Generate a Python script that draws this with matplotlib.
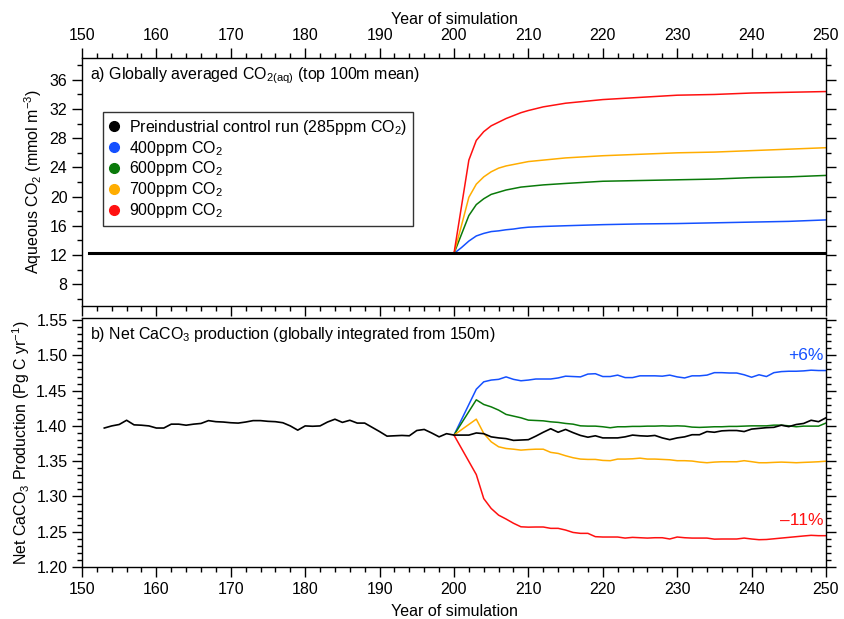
import matplotlib
matplotlib.use("Agg")
import matplotlib.pyplot as plt
from matplotlib.lines import Line2D
from matplotlib.ticker import MultipleLocator

plt.rcParams['font.family'] = ['Liberation Sans', 'DejaVu Sans']
plt.rcParams['mathtext.fontset'] = 'custom'
plt.rcParams['mathtext.rm'] = 'Liberation Sans'
plt.rcParams['mathtext.it'] = 'Liberation Sans:italic'
plt.rcParams['mathtext.bf'] = 'Liberation Sans:bold'

# colours of the runs
c_ctrl = 'black'
c_400 = '#1450ff'
c_600 = '#0a7a0a'
c_700 = '#ffad00'
c_900 = '#ff1010'

# a) aqueous CO2, top 100m mean (mmol m-3)
years_ctrl_a = [151, 250]
co2aq_ctrl = [12.2, 12.2]
years_a = [200, 201, 202, 203, 204, 205, 206, 207, 208, 209, 210,
           212, 215, 220, 225, 230, 235, 240, 245, 250]
co2aq_400 = [12.2, 13.0, 13.9, 14.6, 14.95, 15.2, 15.3, 15.45, 15.55, 15.7, 15.8,
             15.9, 16.0, 16.15, 16.25, 16.3, 16.4, 16.5, 16.6, 16.8]
co2aq_600 = [12.2, 14.8, 17.4, 18.9, 19.7, 20.3, 20.6, 20.9, 21.1, 21.3, 21.4,
             21.6, 21.8, 22.1, 22.2, 22.3, 22.4, 22.6, 22.7, 22.9]
co2aq_700 = [12.2, 16.0, 19.9, 21.7, 22.7, 23.4, 23.9, 24.2, 24.4, 24.6, 24.8,
             25.0, 25.3, 25.6, 25.8, 26.0, 26.1, 26.3, 26.5, 26.7]
co2aq_900 = [12.2, 18.6, 25.0, 27.7, 28.9, 29.7, 30.2, 30.7, 31.1, 31.5, 31.8,
             32.3, 32.8, 33.3, 33.6, 33.9, 34.0, 34.2, 34.3, 34.4]

# b) net CaCO3 production (Pg C yr-1)
years_ctrl_b = list(range(153, 251))
caco3_ctrl = [1.397, 1.400, 1.402, 1.408, 1.4015, 1.401, 1.400, 1.397, 1.397, 1.4025,
              1.4025, 1.401, 1.4025, 1.4035, 1.4075, 1.406, 1.4055, 1.4045, 1.404, 1.4055,
              1.4075, 1.4075, 1.4065, 1.406, 1.4045, 1.400, 1.394, 1.400, 1.3995, 1.400,
              1.4055, 1.4095, 1.405, 1.408, 1.404, 1.404, 1.398, 1.392, 1.3855, 1.386,
              1.3865, 1.386, 1.3935, 1.395, 1.390, 1.3845, 1.389, 1.387,
              1.387, 1.387, 1.390, 1.389, 1.3845, 1.383, 1.382, 1.3795, 1.380, 1.3805,
              1.3855, 1.391, 1.396, 1.391, 1.395, 1.3905, 1.3865, 1.384, 1.386, 1.383,
              1.383, 1.383, 1.3845, 1.387, 1.386, 1.3855, 1.3865, 1.383, 1.3805, 1.383,
              1.3845, 1.3875, 1.3875, 1.392, 1.391, 1.393, 1.3935, 1.3935, 1.392, 1.3955,
              1.3965, 1.3975, 1.398, 1.401, 1.399, 1.402, 1.4035, 1.408, 1.406, 1.4115]
years_b = [200] + list(range(203, 251))
caco3_400 = [1.387, 1.452, 1.4625, 1.465, 1.466, 1.4695, 1.466, 1.464, 1.465, 1.4665,
             1.4665, 1.4665, 1.468, 1.4705, 1.470, 1.4695, 1.4735, 1.474, 1.470, 1.470,
             1.472, 1.4685, 1.4685, 1.471, 1.471, 1.471, 1.4705, 1.472, 1.4695, 1.468,
             1.471, 1.471, 1.472, 1.4755, 1.4755, 1.475, 1.475, 1.4725, 1.469, 1.4725,
             1.470, 1.4755, 1.477, 1.4775, 1.4775, 1.478, 1.479, 1.4785, 1.4785]
caco3_600 = [1.387, 1.437, 1.4304, 1.427, 1.4224, 1.4163, 1.4139, 1.4115, 1.4082, 1.4077,
             1.4072, 1.4058, 1.405, 1.4035, 1.4025, 1.4001, 1.3997, 1.3997, 1.3988, 1.3974,
             1.3988, 1.3988, 1.3993, 1.3993, 1.3997, 1.3997, 1.4001, 1.3997, 1.4001, 1.3997,
             1.3983, 1.3979, 1.3983, 1.3988, 1.3988, 1.3993, 1.3993, 1.3997, 1.4001, 1.4001,
             1.4001, 1.4011, 1.4011, 1.4001, 1.3988, 1.3997, 1.3997, 1.3997, 1.4041]
caco3_700 = [1.387, 1.4096, 1.3894, 1.3775, 1.3704, 1.368, 1.367, 1.3657, 1.3665, 1.367,
             1.367, 1.3625, 1.361, 1.3577, 1.3549, 1.353, 1.3525, 1.3525, 1.3511, 1.3507,
             1.353, 1.353, 1.3534, 1.3543, 1.353, 1.353, 1.3525, 1.352, 1.3507, 1.3507,
             1.3502, 1.3487, 1.3478, 1.3487, 1.3492, 1.3492, 1.3492, 1.3507, 1.3493, 1.3478,
             1.3478, 1.3483, 1.3487, 1.3483, 1.3478, 1.3483, 1.3487, 1.3492, 1.350]
caco3_900 = [1.387, 1.331, 1.297, 1.283, 1.2735, 1.268, 1.262, 1.257, 1.2565, 1.2567,
             1.2567, 1.2548, 1.2548, 1.2524, 1.249, 1.2477, 1.2477, 1.243, 1.2425, 1.2425,
             1.2425, 1.241, 1.242, 1.2415, 1.241, 1.2415, 1.2415, 1.2397, 1.2425, 1.2415,
             1.241, 1.241, 1.241, 1.2395, 1.2397, 1.2397, 1.2397, 1.241, 1.2397, 1.2387,
             1.239, 1.240, 1.241, 1.242, 1.243, 1.244, 1.2449, 1.2444, 1.2444]

legend_labels = ['Preindustrial control run (285ppm CO$_2$)', '400ppm CO$_2$',
                 '600ppm CO$_2$', '700ppm CO$_2$', '900ppm CO$_2$']

fig = plt.figure(figsize=(8.45, 6.19), dpi=100)
ax1 = fig.add_axes([0.097, 0.5057, 0.8805, 0.4006])
ax2 = fig.add_axes([0.097, 0.0840, 0.8805, 0.4023])

fs = 11.5

# ---- panel a
ax1.plot(years_ctrl_a, co2aq_ctrl, color=c_ctrl, lw=2.2, zorder=5)
ax1.plot(years_a, co2aq_400, color=c_400, lw=1.1)
ax1.plot(years_a, co2aq_600, color=c_600, lw=1.1)
ax1.plot(years_a, co2aq_700, color=c_700, lw=1.1)
ax1.plot(years_a, co2aq_900, color=c_900, lw=1.1)
ax1.set_xlim(150, 250)
ax1.set_ylim(5, 39)
ax1.xaxis.set_major_locator(MultipleLocator(10))
ax1.xaxis.set_minor_locator(MultipleLocator(2))
ax1.yaxis.set_minor_locator(MultipleLocator(2))
ax1.set_yticks([8, 12, 16, 20, 24, 28, 32, 36])
ax1.tick_params(which='both', direction='out', top=True, bottom=True, left=True, right=True,
                labeltop=True, labelbottom=False, labelsize=fs, width=1)
ax1.tick_params(which='major', length=7)
ax1.tick_params(which='minor', length=3.5)
ax1.xaxis.set_label_position('top')
ax1.set_xlabel('Year of simulation', fontsize=fs, labelpad=3.5)
ax1.set_ylabel('Aqueous CO$_2$ (mmol m$^{-3}$)', fontsize=fs, labelpad=4)
ax1.text(0.011, 0.93, 'a) Globally averaged CO$_{\\mathrm{2(aq)}}$ (top 100m mean)',
         transform=ax1.transAxes, fontsize=fs, va='center', ha='left')

handles = [Line2D([], [], ls='none', marker='o', ms=7, color=c) for c in
           [c_ctrl, c_400, c_600, c_700, c_900]]
leg = ax1.legend(handles, legend_labels, loc='upper left', bbox_to_anchor=(0.028, 0.782),
                 borderaxespad=0, fontsize=fs, frameon=True, fancybox=False,
                 handlelength=0.7, handletextpad=0.6, labelspacing=0.12, borderpad=0.35)
leg.get_frame().set_edgecolor('black')
leg.get_frame().set_linewidth(1)

# ---- panel b
ax2.plot(years_ctrl_b, caco3_ctrl, color=c_ctrl, lw=1.2, zorder=5)
ax2.plot(years_b, caco3_400, color=c_400, lw=1.1)
ax2.plot(years_b, caco3_600, color=c_600, lw=1.1)
ax2.plot(years_b, caco3_700, color=c_700, lw=1.1)
ax2.plot(years_b, caco3_900, color=c_900, lw=1.1)
ax2.set_xlim(150, 250)
ax2.set_ylim(1.2, 1.553)
ax2.xaxis.set_major_locator(MultipleLocator(10))
ax2.xaxis.set_minor_locator(MultipleLocator(2))
ax2.set_yticks([1.20, 1.25, 1.30, 1.35, 1.40, 1.45, 1.50, 1.55])
ax2.yaxis.set_minor_locator(MultipleLocator(0.01))
ax2.yaxis.set_major_formatter(matplotlib.ticker.FormatStrFormatter('%.2f'))
ax2.tick_params(which='both', direction='out', top=False, bottom=True, left=True, right=True,
                labelsize=fs, width=1)
ax2.tick_params(which='major', length=7)
ax2.tick_params(which='minor', length=3.5)
ax2.set_xlabel('Year of simulation', fontsize=fs, labelpad=5)
ax2.set_ylabel('Net CaCO$_3$ Production (Pg C yr$^{-1}$)', fontsize=fs, labelpad=3)
ax2.text(0.011, 0.935, 'b) Net CaCO$_3$ production (globally integrated from 150m)',
         transform=ax2.transAxes, fontsize=fs, va='center', ha='left')
ax2.text(0.997, caco3_400[-1] + 0.022, '+6%', color=c_400, fontsize=12.5,
         ha='right', va='center', transform=ax2.get_yaxis_transform())
ax2.text(0.997, caco3_900[-1] + 0.022, '\u201311%', color=c_900, fontsize=12.5,
         ha='right', va='center', transform=ax2.get_yaxis_transform())

for ax in (ax1, ax2):
    for s in ax.spines.values():
        s.set_linewidth(1)

fig.savefig('out.png', dpi=100)
